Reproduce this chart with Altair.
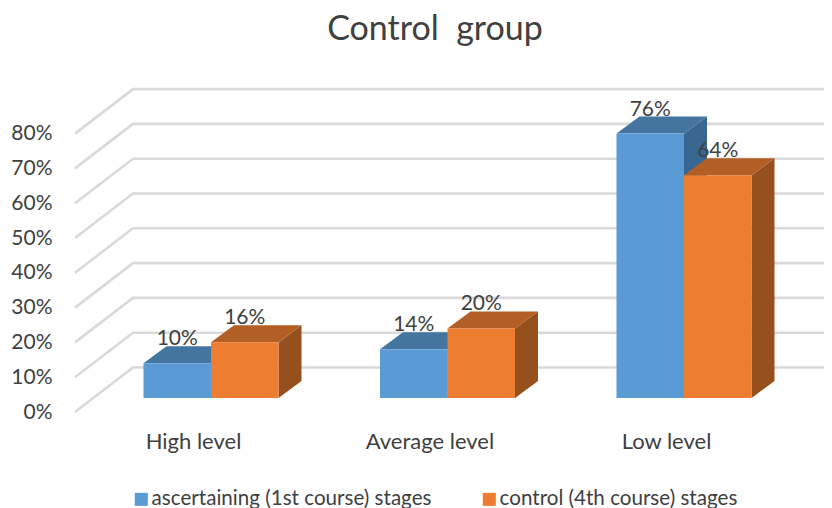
import json
import altair as alt
import pandas as pd

categories = ["High level", "Average level", "Low level"]
series = ["ascertaining (1st course) stages", "control (4th course) stages"]
first_stage = [10, 14, 76]
second_stage = [16, 20, 64]
ticks = [0, 10, 20, 30, 40, 50, 60, 70, 80]

FONT = "Lato"
TXT = "#404040"
FS = 21
front_c = ["#5B9BD5", "#ED7D31"]
top_c = ["#4474A0", "#B25E25"]
side_c = ["#3A6791", "#95501D"]

# geometry in data units (1 x-unit = distance between categories, y in percent)
PX_X = 236.5
PX_Y = 3.48
BAR = 67.5 / PX_X
DX, DY = 23 / PX_X, 17 / PX_Y
WALL_X0, WALL_X1 = -136 / PX_X, -78 / PX_X
WALL_Y_FRONT, WALL_Y_BACK = -14 / PX_Y, 30.5 / PX_Y

W, H = 816, 450
X_MAX = (824 - 211) / PX_X
xs = alt.Scale(domain=[(8 - 211) / PX_X, X_MAX], range=[0, W], nice=False, zero=False)
ys = alt.Scale(domain=[(398 - 508) / PX_Y, (398 - 58) / PX_Y], range=[H, 0], nice=False, zero=False)

grid, fronts, tops, sides, labels = [], [], [], [], []
for t in ticks:
    grid += [
        {"tick": t, "x": WALL_X0, "y": t + WALL_Y_FRONT},
        {"tick": t, "x": WALL_X1, "y": t + WALL_Y_BACK},
        {"tick": t, "x": X_MAX, "y": t + WALL_Y_BACK},
    ]
for s, vals in enumerate([first_stage, second_stage]):
    for c, v in enumerate(vals):
        x0 = c + (s - 1) * BAR
        x1 = x0 + BAR
        bar = f"{s}-{c}"
        fronts.append({"s": s, "series": series[s], "x": x0, "x2": x1, "y": v, "y0": 0})
        labels.append({"x": (x0 + x1) / 2, "y": v, "t": f"{v}%"})
        tops += [
            {"s": s, "bar": bar, "y": v, "x": x0, "x2": x1},
            {"s": s, "bar": bar, "y": v + DY, "x": x0 + DX, "x2": x1 + DX},
        ]
        sides += [
            {"s": s, "bar": bar, "x": x1, "y": v, "y2": 0},
            {"s": s, "bar": bar, "x": x1 + DX, "y": v + DY, "y2": DY},
        ]
grid, fronts, tops, sides, labels = map(pd.DataFrame, (grid, fronts, tops, sides, labels))

x_axis = alt.Axis(
    values=[0, 1, 2], labelExpr=f"{json.dumps(categories)}[datum.value]",
    orient="bottom", offset=-77, labelOffset=-18, domain=False, ticks=False, grid=False,
    labelFont=FONT, labelFontSize=22, labelColor=TXT, labelPadding=0, labelBaseline="top",
)
y_axis = alt.Axis(
    values=ticks, labelExpr="datum.value + '%'", orient="left", offset=-44, labelOffset=14,
    domain=False, ticks=False, grid=False,
    labelFont=FONT, labelFontSize=FS, labelColor=TXT, labelPadding=0,
)
X = alt.X("x:Q", scale=xs, axis=x_axis, title=None)
Y = alt.Y("y:Q", scale=ys, axis=y_axis, title=None)

grid_layer = alt.Chart(grid).mark_line(color="#D9D9D9", strokeWidth=2.6).encode(x=X, y=Y, detail="tick:N")

side_layers = [
    alt.Chart(sides[sides.s == s]).mark_area(color=side_c[s], opacity=1).encode(
        x=X, y=Y, y2="y2:Q", detail="bar:N"
    )
    for s in (0, 1)
]
top_layers = [
    alt.Chart(tops[tops.s == s]).mark_area(color=top_c[s], opacity=1, orient="horizontal").encode(
        y=Y, x=X, x2="x2:Q", detail="bar:N"
    )
    for s in (0, 1)
]
front_layer = alt.Chart(fronts).mark_rect().encode(
    x=X, x2="x2:Q", y=Y, y2="y0:Q",
    color=alt.Color(
        "series:N", scale=alt.Scale(domain=series, range=front_c), title=None,
        legend=alt.Legend(
            orient="none", legendX=123, legendY=431, direction="horizontal", columns=2,
            symbolType="square", symbolSize=169, symbolStrokeWidth=0, symbolOpacity=1,
            labelFont=FONT, labelFontSize=20.6, labelColor=TXT, labelLimit=400, labelOffset=0,
            columnPadding=47, padding=0,
        ),
    ),
)
label_layer = alt.Chart(labels).mark_text(
    font=FONT, fontSize=FS, color=TXT, dy=-24, baseline="middle", align="center"
).encode(x=X, y=Y, text="t:N")

chart = alt.layer(grid_layer, *side_layers, *top_layers, front_layer, label_layer).properties(
    width=W, height=H,
    padding={"left": 0, "top": 50, "right": 0, "bottom": 0},
    autosize=alt.AutoSizeParams(type="none"),
    title=alt.TitleParams(
        "Control\u00a0 group", font=FONT, fontSize=34, fontWeight="normal", color=TXT,
        anchor="middle", frame="group", dx=19, offset=11,
    ),
).configure_view(stroke=None)

chart.save("out.html", embed_options={"renderer": "svg", "actions": False})
